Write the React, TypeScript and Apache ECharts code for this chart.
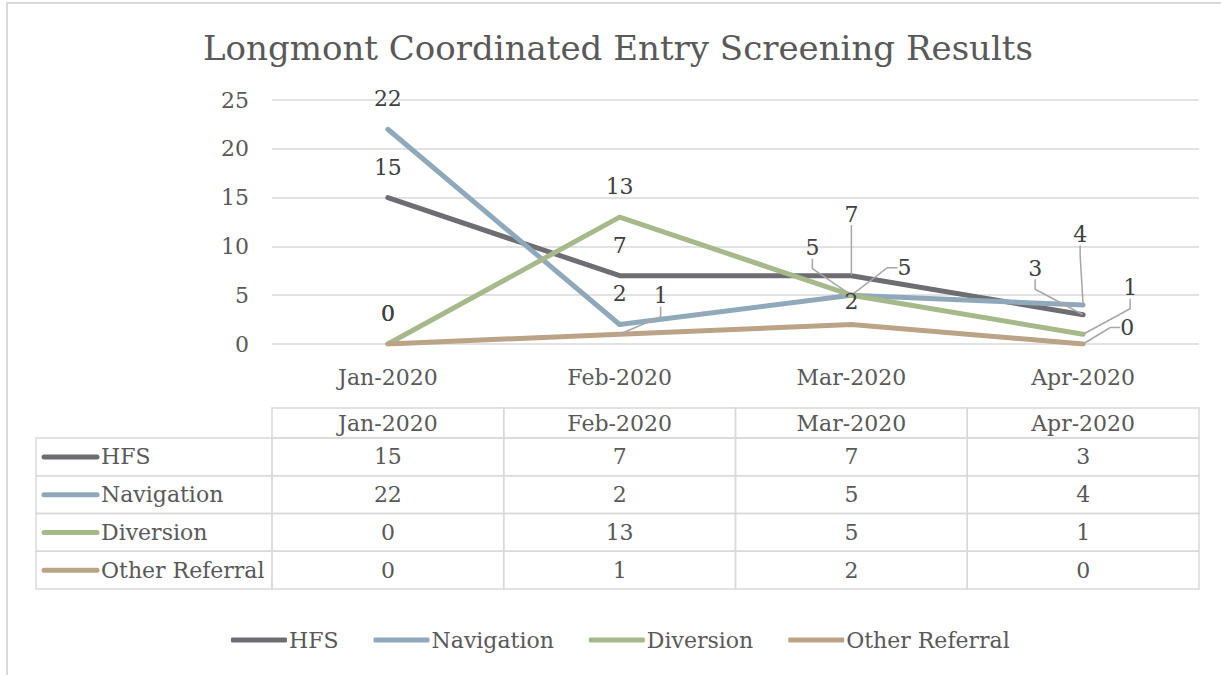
import React, { useEffect, useRef } from "react";
import * as echarts from "echarts";

const MONTHS = ["Jan-2020", "Feb-2020", "Mar-2020", "Apr-2020"];
const SERIES_NAMES = ["HFS", "Navigation", "Diversion", "Other Referral"];
const HFS = [15, 7, 7, 3];
const NAVIGATION = [22, 2, 5, 4];
const DIVERSION = [0, 13, 5, 1];
const OTHER_REFERRAL = [0, 1, 2, 0];
const Y_MIN = 0;
const Y_MAX = 25;
const Y_STEP = 5;

const SERIES_VALUES = [HFS, NAVIGATION, DIVERSION, OTHER_REFERRAL];
const COLORS = ["#6D6D72", "#90A9BA", "#A6B98A", "#BAA386"];

// label displacement (style only): [dx, dy, leader]
const LABEL_SHIFT: [number, number, boolean][][] = [
  [[0, 0, false], [0, 0, false], [0, -31, true], [-48, -16, true]],
  [[0, 0, false], [0, 0, false], [53, 3, true], [-3, -40, true]],
  [[0, 0, false], [0, 0, false], [-39, -17, true], [47, -16, true]],
  [[0, 0, false], [41, -8, true], [0, 8, false], [44, 14, true]],
];

const FONT = '"DejaVu Serif", serif';
const TEXT = "#595959";
const BORDER = "#D9D9D9";
const FS = 22;
const ROW_HEAD_W = 236;
const HEAD_H = 30;

export default function App() {
  const ref = useRef<HTMLDivElement>(null);
  useEffect(() => {
    const chart = echarts.init(ref.current!, null, { renderer: "svg" });

    const lineSeries = SERIES_NAMES.map((name, si) => ({
      name,
      type: "line",
      xAxisIndex: 0,
      yAxisIndex: 0,
      data: SERIES_VALUES[si].map((v, i) => ({
        value: v,
        labelLine: { show: LABEL_SHIFT[si][i][2] },
      })),
      symbol: "circle",
      symbolSize: 1,
      showSymbol: true,
      itemStyle: { color: COLORS[si] },
      lineStyle: { color: COLORS[si], width: 5, cap: "round", join: "round" },
      label: {
        show: true,
        position: "top",
        distance: 19,
        fontSize: FS,
        fontFamily: FONT,
        color: "#404040",
      },
      labelLine: {
        show: false,
        lineStyle: { color: "#A6A6A6", width: 1.5 },
        length2: 10,
      },
      labelLayout: (p: any) => {
        const s = LABEL_SHIFT[si][p.dataIndex];
        return { dx: s[0], dy: s[1] };
      },
      z: 3,
    }));

    const tableData: number[][] = [];
    SERIES_VALUES.forEach((vals, r) =>
      vals.forEach((v, c) => tableData.push([c, r, v]))
    );

    const tableSeries = {
      type: "custom",
      xAxisIndex: 1,
      yAxisIndex: 1,
      data: tableData,
      silent: true,
      renderItem: (params: any, api: any) => {
        const col = api.value(0);
        const row = api.value(1);
        const v = api.value(2);
        const c = api.coord([col, row]);
        const s = api.size([1, 1]);
        const w = s[0];
        const h = s[1];
        const x0 = c[0] - w / 2;
        const y0 = c[1] - h / 2;
        const cellStyle = { fill: "none", stroke: BORDER, lineWidth: 1.5 };
        const txt = (text: string, x: number, y: number, align: string) => ({
          type: "text",
          style: {
            text,
            x,
            y,
            align,
            textAlign: align,
            verticalAlign: "middle",
            textVerticalAlign: "middle",
            fontSize: FS,
            fontFamily: FONT,
            fill: TEXT,
          },
        });
        const children: any[] = [
          { type: "rect", shape: { x: x0, y: y0, width: w, height: h }, style: cellStyle },
          txt(String(v), c[0], c[1], "center"),
        ];
        if (col === 0) {
          const rx = x0 - ROW_HEAD_W;
          children.push(
            { type: "rect", shape: { x: rx, y: y0, width: ROW_HEAD_W, height: h }, style: cellStyle },
            {
              type: "line",
              shape: { x1: rx + 8, y1: c[1], x2: rx + 61, y2: c[1] },
              style: { stroke: COLORS[row], lineWidth: 5, lineCap: "round" },
            },
            txt(SERIES_NAMES[row], rx + 65, c[1], "left")
          );
        }
        if (row === 0) {
          children.push(
            { type: "rect", shape: { x: x0, y: y0 - HEAD_H, width: w, height: HEAD_H }, style: cellStyle },
            txt(MONTHS[col], c[0], y0 - HEAD_H / 2, "center")
          );
        }
        return { type: "group", children };
      },
      z: 2,
    };

    const option: any = {
      animation: false,
      backgroundColor: "#FFFFFF",
      textStyle: { fontFamily: FONT },
      title: {
        text: "Longmont Coordinated Entry Screening Results",
        left: 613,
        textAlign: "center",
        top: 26,
        textStyle: { fontSize: 34, fontWeight: "normal", color: TEXT, fontFamily: FONT },
      },
      graphic: [
        {
          type: "rect",
          shape: { x: 7, y: 3, width: 1400, height: 900 },
          style: { fill: "none", stroke: BORDER, lineWidth: 2 },
          silent: true,
          z: 0,
        },
      ],
      legend: {
        left: 231,
        top: 629,
        padding: 0,
        icon: "roundRect",
        itemWidth: 56,
        itemHeight: 5,
        itemGap: 35,
        textStyle: { fontSize: FS, color: TEXT, fontFamily: FONT, padding: [0, 0, 0, -3] },
        data: SERIES_NAMES,
      },
      grid: [
        { left: 272, right: 22, top: 100, height: 244, containLabel: false },
        { left: 272, right: 22, top: 438, height: 151, containLabel: false },
      ],
      xAxis: [
        {
          type: "category",
          gridIndex: 0,
          data: MONTHS,
          boundaryGap: true,
          axisLine: { show: false },
          axisTick: { show: false },
          axisLabel: { fontSize: FS, color: TEXT, fontFamily: FONT, margin: 22 },
        },
        {
          type: "category",
          gridIndex: 1,
          data: MONTHS,
          show: false,
        },
      ],
      yAxis: [
        {
          type: "value",
          gridIndex: 0,
          min: Y_MIN,
          max: Y_MAX,
          interval: Y_STEP,
          axisLine: { show: false },
          axisTick: { show: false },
          splitLine: { lineStyle: { color: BORDER, width: 1.5 } },
          axisLabel: { fontSize: FS, color: TEXT, fontFamily: FONT, margin: 23 },
        },
        {
          type: "category",
          gridIndex: 1,
          data: SERIES_NAMES,
          inverse: true,
          show: false,
        },
      ],
      series: [...lineSeries, tableSeries],
    };
    chart.setOption(option);
    return () => chart.dispose();
  }, []);
  return (
    <div
      ref={ref}
      style={{ position: "absolute", left: 0, top: 0, width: 1221, height: 675 }}
    />
  );
}
